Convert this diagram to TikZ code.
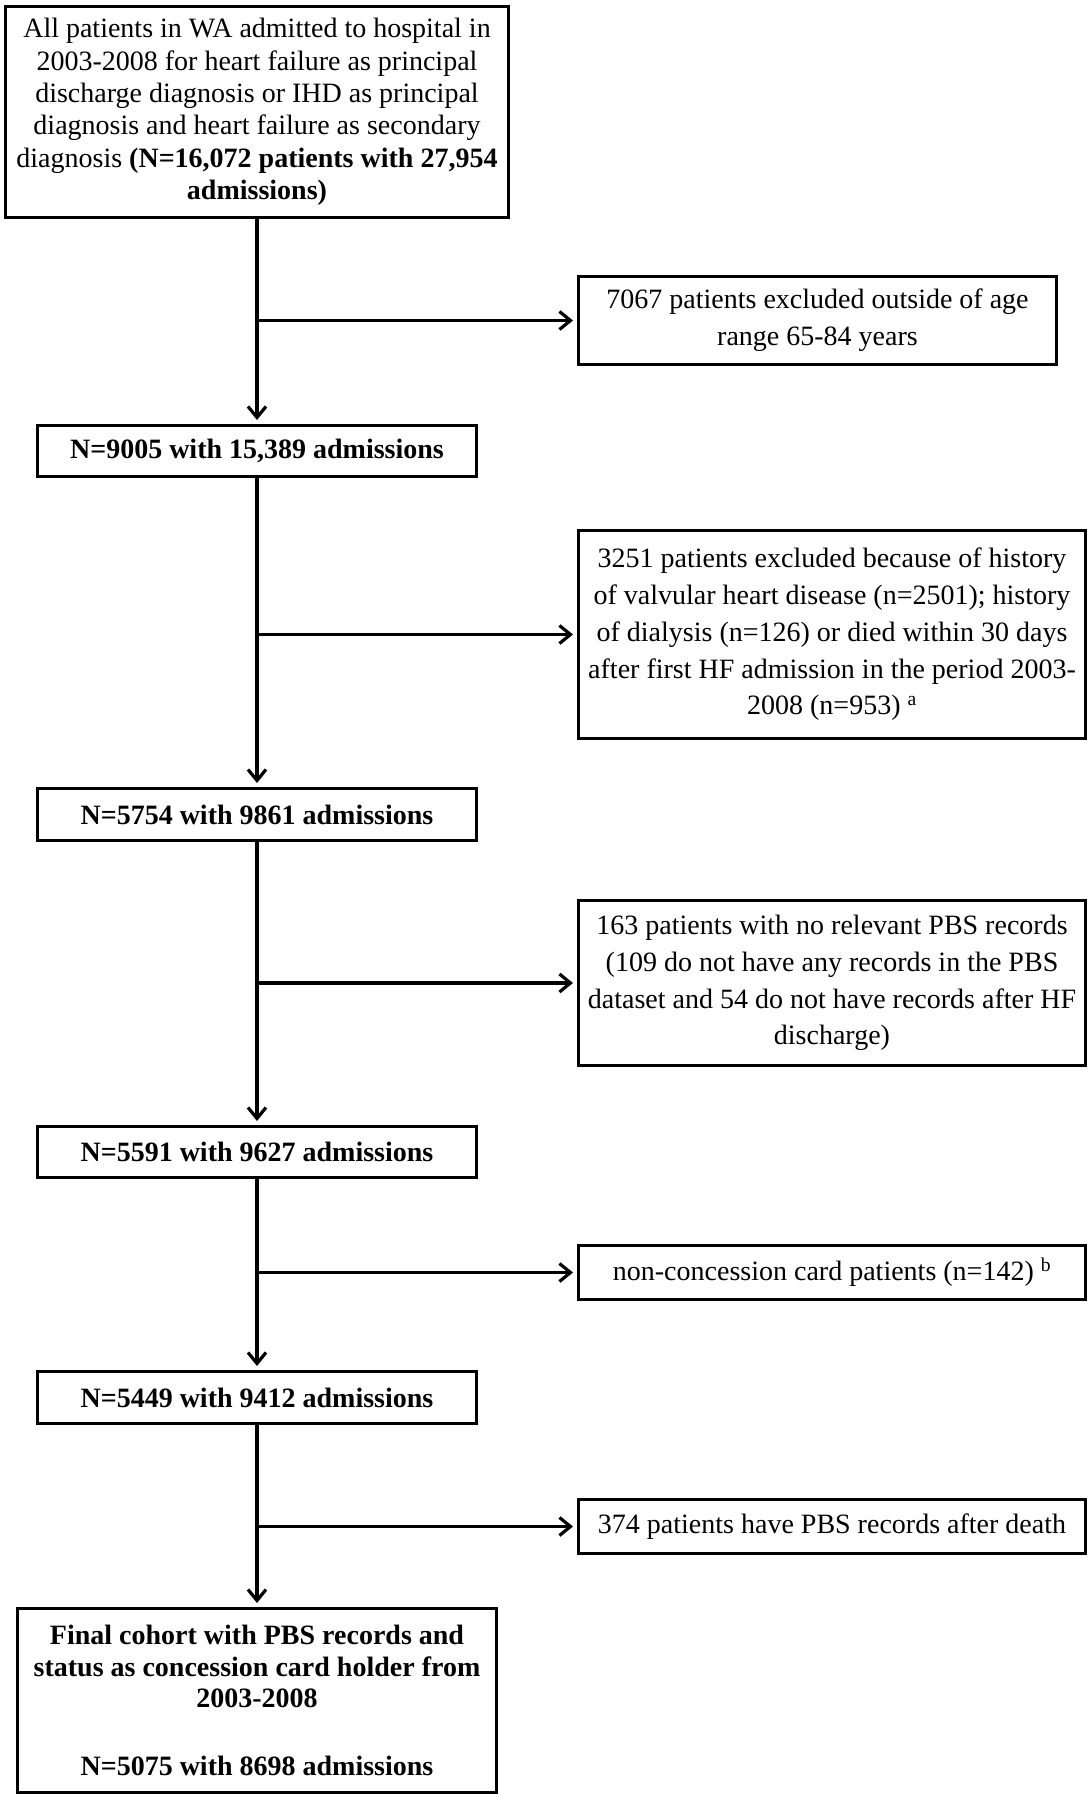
\documentclass[tikz,border=0pt]{standalone}
\usepackage{fontspec}
\setmainfont{Liberation Serif}
\usetikzlibrary{arrows.meta}
\begin{document}
\begin{tikzpicture}[x=1bp,y=-1bp,
  box/.style={draw, line width=3bp, rectangle, inner xsep=0pt, inner ysep=0pt,
    align=center, font=\fontsize{28bp}{36.7bp}\selectfont},
  mainbox/.style={box, font=\fontsize{28bp}{36.7bp}\selectfont\bfseries},
  arr/.style={line width=3.2bp, -{Straight Barb[length=11bp,width=18bp,line width=3.2bp]}, shorten >=4bp}]
\useasboundingbox (0,0) rectangle (1091,1800);

\node[box, minimum width=503bp, minimum height=211bp,
  font=\fontsize{28bp}{32.4bp}\selectfont] (top) at (257,112)
  {All patients in WA admitted to hospital in\\
   2003-2008 for heart failure as principal\\
   discharge diagnosis or IHD as principal\\
   diagnosis and heart failure as secondary\\
   diagnosis \textbf{(N=16,072 patients with 27,954}\\
   \textbf{admissions)}};

\node[box, minimum width=478bp, minimum height=88bp] (e1) at (817.5,320.5)
  {7067 patients excluded outside of age\\ range 65-84 years};

\node[mainbox, minimum width=438bp, minimum height=51bp] (n1) at (257,451)
  {N=9005 with 15,389 admissions};

\node[box, minimum width=507bp, minimum height=208bp] (e2) at (832,634.5)
  {3251 patients excluded because of history\\
   of valvular heart disease (n=2501); history\\
   of dialysis (n=126) or died within 30 days\\
   after first HF admission in the period 2003-\\
   2008 (n=953) \textsuperscript{a}};

\node[mainbox, minimum width=438bp, minimum height=52bp] (n2) at (257,814.5)
  {N=5754 with 9861 admissions};

\node[box, minimum width=507bp, minimum height=165bp] (e3) at (832,983)
  {163 patients with no relevant PBS records\\
   (109 do not have any records in the PBS\\
   dataset and 54 do not have records after HF\\
   discharge)};

\node[mainbox, minimum width=438bp, minimum height=51bp] (n3) at (257,1152)
  {N=5591 with 9627 admissions};

\node[box, minimum width=507bp, minimum height=54bp] (e4) at (832,1272.5)
  {non-concession card patients (n=142) \textsuperscript{b}};

\node[mainbox, minimum width=438bp, minimum height=52bp] (n4) at (257,1397.5)
  {N=5449 with 9412 admissions};

\node[box, minimum width=507bp, minimum height=54bp] (e5) at (832,1526.5)
  {374 patients have PBS records after death};

\node[mainbox, minimum width=478bp, minimum height=184bp,
  font=\fontsize{28bp}{31.5bp}\selectfont\bfseries] (fin) at (257,1700.5)
  {Final cohort with PBS records and\\
   status as concession card holder from\\
   2003-2008\\[36bp]
   N=5075 with 8698 admissions};

\draw[arr] (top.south) -- (n1.north);
\draw[arr] (n1.south) -- (n2.north);
\draw[arr] (n2.south) -- (n3.north);
\draw[arr] (n3.south) -- (n4.north);
\draw[arr] (n4.south) -- (fin.north);

\draw[arr] (top.south |- e1.west) -- (e1.west);
\draw[arr] (n1.south |- e2.west) -- (e2.west);
\draw[arr] (n2.south |- e3.west) -- (e3.west);
\draw[arr] (n3.south |- e4.west) -- (e4.west);
\draw[arr] (n4.south |- e5.west) -- (e5.west);
\end{tikzpicture}
\end{document}
